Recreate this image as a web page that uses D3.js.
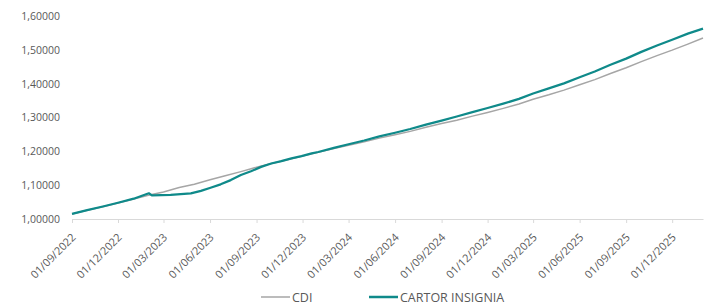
<!DOCTYPE html>
<html>
<head>
<meta charset="utf-8">
<script src="https://cdn.jsdelivr.net/npm/d3@7"></script>
<style>
  body { margin: 0; background: #fff; }
  text { font-family: "Open Sans", sans-serif; fill: #595959; }
</style>
</head>
<body>
<svg id="chart"></svg>
<script>
// CDI, month starts
var cdiDates = [
  "2022-09-01","2022-10-01","2022-11-01","2022-12-01",
  "2023-01-01","2023-02-01","2023-03-01","2023-04-01","2023-05-01","2023-06-01",
  "2023-07-01","2023-08-01","2023-09-01","2023-10-01","2023-11-01","2023-12-01",
  "2024-01-01","2024-02-01","2024-03-01","2024-04-01","2024-05-01","2024-06-01",
  "2024-07-01","2024-08-01","2024-09-01","2024-10-01","2024-11-01","2024-12-01",
  "2025-01-01","2025-02-01","2025-03-01","2025-04-01","2025-05-01","2025-06-01",
  "2025-07-01","2025-08-01","2025-09-01","2025-10-01","2025-11-01","2025-12-01",
  "2026-01-01","2026-01-31"
];
var cdiValues = [
  1.015, 1.026, 1.036, 1.047,
  1.059, 1.071, 1.080, 1.093, 1.103, 1.116,
  1.128, 1.140, 1.153, 1.164, 1.175, 1.186,
  1.197, 1.208, 1.218, 1.228, 1.239, 1.249,
  1.259, 1.271, 1.282, 1.292, 1.304, 1.315,
  1.327, 1.340, 1.354, 1.367, 1.381, 1.397,
  1.412, 1.430, 1.447, 1.465, 1.483, 1.499,
  1.517, 1.535
];

// CARTOR INSIGNIA, denser around the Feb/2023 drop
var cartorDates = [
  "2022-09-01","2022-10-01","2022-11-01","2022-12-01","2023-01-01","2023-01-31",
  "2023-02-06","2023-03-15","2023-04-24","2023-05-14","2023-06-02","2023-06-22",
  "2023-07-12","2023-08-01","2023-08-21","2023-09-10","2023-09-30","2023-10-20",
  "2023-11-09","2023-11-29","2023-12-19",
  "2024-01-01","2024-02-01","2024-03-01","2024-04-01","2024-05-01","2024-06-01",
  "2024-07-01","2024-08-01","2024-09-01","2024-10-01","2024-11-01","2024-12-01",
  "2025-01-01","2025-02-01","2025-03-01","2025-04-01","2025-05-01","2025-06-01",
  "2025-07-01","2025-08-01","2025-09-01","2025-10-01","2025-11-01","2025-12-01",
  "2026-01-01","2026-01-31"
];
var cartorValues = [
  1.015, 1.026, 1.037, 1.048, 1.060, 1.076,
  1.070, 1.071, 1.076, 1.083, 1.0925, 1.1025,
  1.115, 1.130, 1.141, 1.154, 1.164, 1.171,
  1.179, 1.186, 1.194,
  1.198, 1.210, 1.221, 1.232, 1.244, 1.255,
  1.266, 1.279, 1.291, 1.303, 1.316, 1.328,
  1.341, 1.355, 1.371, 1.386, 1.401, 1.419,
  1.436, 1.456, 1.474, 1.494, 1.513, 1.530,
  1.548, 1.5625
];

var yTicks = [1.0, 1.1, 1.2, 1.3, 1.4, 1.5, 1.6];
var xTicks = [
  "2022-09-01","2022-12-01","2023-03-01","2023-06-01","2023-09-01","2023-12-01",
  "2024-03-01","2024-06-01","2024-09-01","2024-12-01","2025-03-01","2025-06-01",
  "2025-09-01","2025-12-01"
];

var width = 712;
var height = 307;
var padding = { top: 16, right: 9, bottom: 88, left: 72 };

var parse = d3.timeParse("%Y-%m-%d");

var cdi = cdiDates.map(function(d, i) { return { date: parse(d), value: cdiValues[i] }; });
var cartor = cartorDates.map(function(d, i) { return { date: parse(d), value: cartorValues[i] }; });

var svg = d3.select("#chart")
  .attr("width", width)
  .attr("height", height);

var xScale = d3.scaleTime()
  .domain([parse("2022-09-01"), parse("2026-01-31")])
  .range([padding.left, width - padding.right]);

var yScale = d3.scaleLinear()
  .domain([1.0, 1.6])
  .range([height - padding.bottom, padding.top]);

var commaFmt = function(v) { return d3.format(".5f")(v).replace(".", ","); };

// y axis: labels only
var yAxis = d3.axisLeft(yScale)
  .tickValues(yTicks)
  .tickSize(0)
  .tickPadding(12)
  .tickFormat(commaFmt);

svg.append("g")
  .attr("class", "y-axis")
  .attr("transform", `translate(${padding.left},0)`)
  .call(yAxis)
  .call(function(g) { g.select(".domain").remove(); })
  .selectAll("text")
  .style("font-size", "10.5px")
  .style("fill", "#595959");

// x axis
var xAxis = d3.axisBottom(xScale)
  .tickValues(xTicks.map(parse))
  .tickSize(4)
  .tickSizeOuter(0)
  .tickFormat(d3.timeFormat("%d/%m/%Y"));

var xg = svg.append("g")
  .attr("class", "x-axis")
  .attr("transform", `translate(0,${height - padding.bottom})`)
  .call(xAxis);

xg.select(".domain").attr("stroke", "#d9d9d9");
xg.selectAll(".tick line").attr("stroke", "#d9d9d9");
xg.selectAll(".tick text")
  .attr("y", 0)
  .attr("dy", 0)
  .attr("transform", "translate(4,19) rotate(-45)")
  .style("text-anchor", "end")
  .style("font-size", "11px")
  .style("fill", "#595959");

var line = d3.line()
  .x(function(d) { return xScale(d.date); })
  .y(function(d) { return yScale(d.value); });

svg.append("path")
  .datum(cdi)
  .attr("fill", "none")
  .attr("stroke", "#a6a6a6")
  .attr("stroke-width", 1.5)
  .attr("d", line);

svg.append("path")
  .datum(cartor)
  .attr("fill", "none")
  .attr("stroke", "#0f8a8a")
  .attr("stroke-width", 2.25)
  .attr("stroke-linejoin", "round")
  .attr("d", line);

// Legend
var legendItems = [
  { name: "CDI", color: "#a6a6a6", w: 1.5, x: 261 },
  { name: "CARTOR INSIGNIA", color: "#0f8a8a", w: 2.5, x: 369 }
];

var legend = svg.append("g").attr("class", "legend");

legend.selectAll("line")
  .data(legendItems)
  .enter()
  .append("line")
  .attr("x1", function(d) { return d.x; })
  .attr("x2", function(d) { return d.x + 29; })
  .attr("y1", 297)
  .attr("y2", 297)
  .attr("stroke", function(d) { return d.color; })
  .attr("stroke-width", function(d) { return d.w; });

legend.selectAll("text")
  .data(legendItems)
  .enter()
  .append("text")
  .attr("x", function(d) { return d.x + 31; })
  .attr("y", 301.5)
  .style("font-size", "12.5px")
  .text(function(d) { return d.name; });
</script>
</body>
</html>
